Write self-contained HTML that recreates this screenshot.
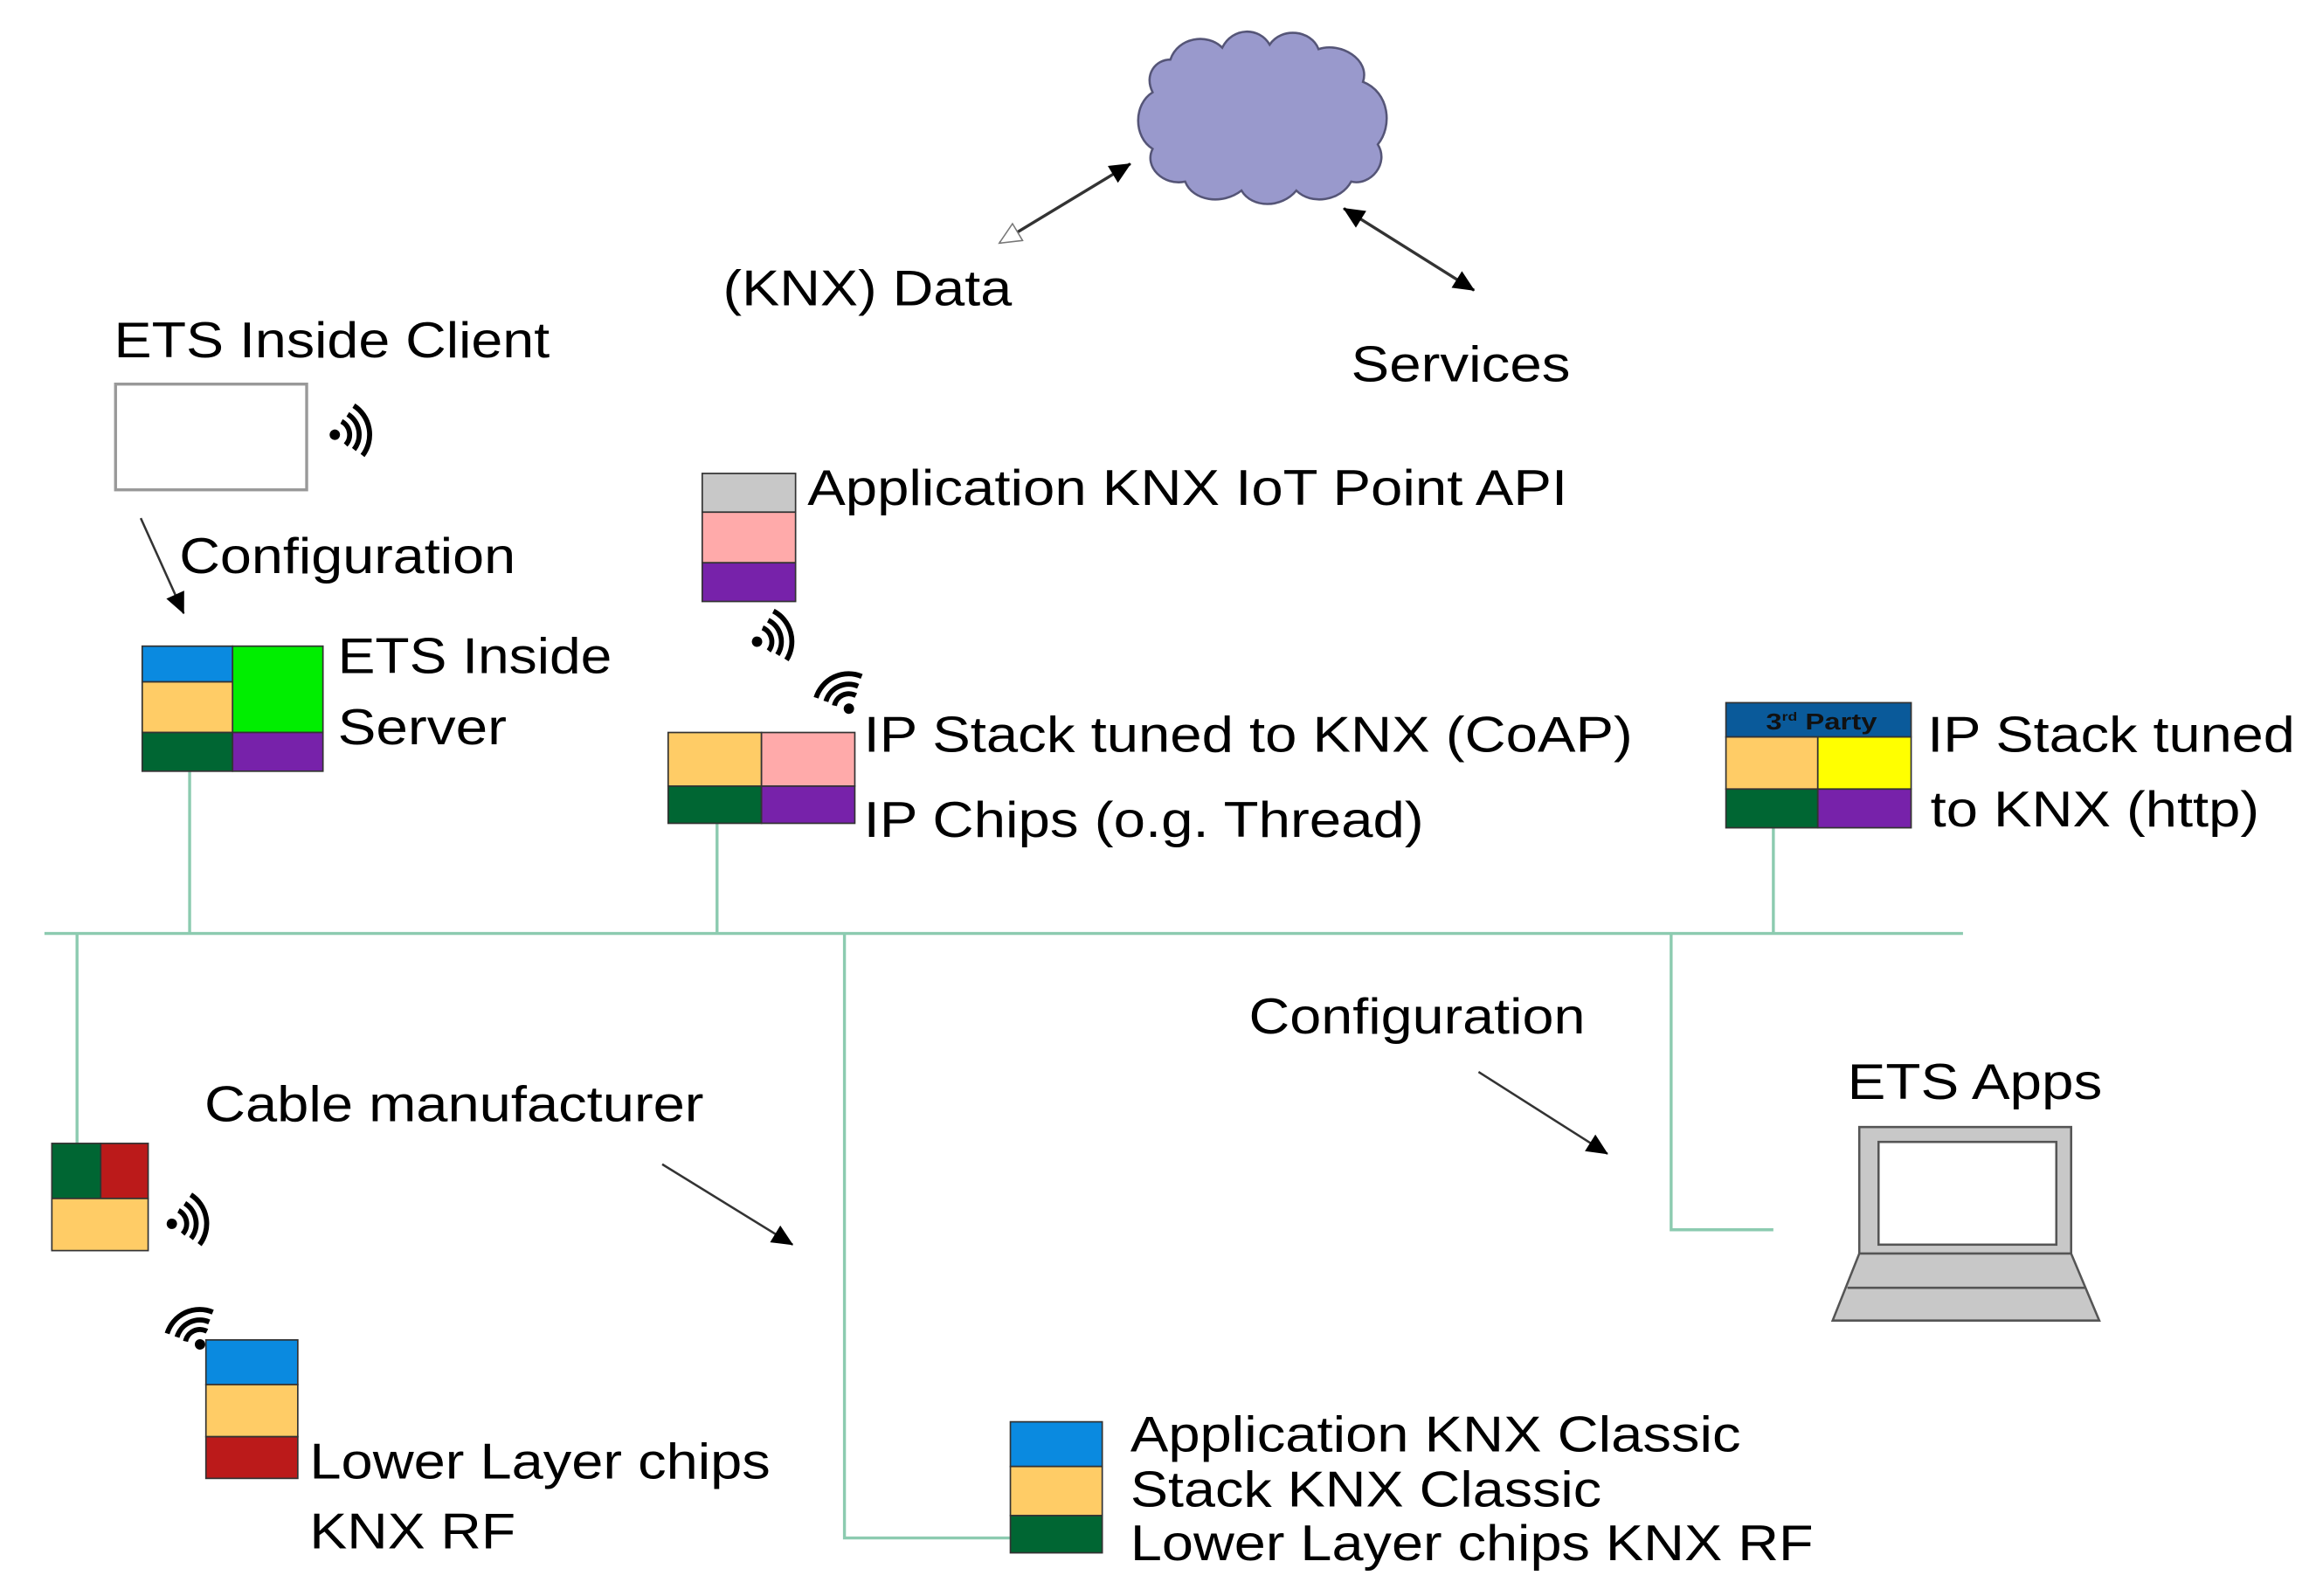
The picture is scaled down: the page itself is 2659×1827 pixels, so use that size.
<!DOCTYPE html>
<html><head><meta charset="utf-8"><style>html,body{margin:0;padding:0;background:#fff}svg{display:block}</style></head>
<body>
<svg width="2659" height="1827" viewBox="0 0 1568 1072" preserveAspectRatio="none" xmlns="http://www.w3.org/2000/svg" font-family="Liberation Sans, Arial, sans-serif" font-size="34" fill="#000">
<defs>
<marker id="af" viewBox="0 0 10 10" refX="9" refY="5" markerWidth="6" markerHeight="6" orient="auto-start-reverse" markerUnits="userSpaceOnUse" style="overflow:visible"><path d="M-14,-6 L10,5 L-14,16 Z" fill="#000"/></marker>
<marker id="ao" viewBox="0 0 10 10" refX="9" refY="5" markerWidth="6" markerHeight="6" orient="auto-start-reverse" markerUnits="userSpaceOnUse" style="overflow:visible"><path d="M-14,-6 L10,5 L-14,16 Z" fill="#fff" stroke="#777" stroke-width="1.5"/></marker>
<g id="wifi" fill="none" stroke="#000" stroke-width="3.4">
<circle cx="0" cy="0" r="3.5" fill="#000" stroke="none"/>
<path d="M6,-8 A10,10 0 0 1 6,8"/><path d="M11,-12 A16,16 0 0 1 11,12"/><path d="M16,-17 A23,23 0 0 1 16,17"/>
</g>
</defs>
<g stroke="#8ccbb0" stroke-width="2" fill="none">
<line x1="30" y1="627" x2="1325" y2="627"/>
<line x1="128" y1="518" x2="128" y2="627"/>
<line x1="484" y1="553" x2="484" y2="627"/>
<line x1="1197" y1="556" x2="1197" y2="627"/>
<line x1="52" y1="627" x2="52" y2="768"/>
<polyline points="570,627 570,1033 682,1033"/>
<polyline points="1128,627 1128,826 1197,826"/>
</g>
<path d="M790,40 C795,25 815,22 825,32 C832,18 850,18 857,30 C865,18 885,20 890,33 C905,28 925,40 920,55 C938,62 940,85 930,97 C938,110 925,125 912,122 C905,135 885,138 875,128 C865,140 845,140 838,128 C825,138 805,135 800,122 C785,125 772,112 778,100 C765,92 765,70 778,62 C772,50 780,40 790,40 Z" fill="#9999cc" stroke="#555577" stroke-width="1.5"/>
<line x1="675" y1="163" x2="763" y2="110" stroke="#333" stroke-width="2" marker-start="url(#ao)" marker-end="url(#af)"/>
<line x1="907" y1="140" x2="995" y2="195" stroke="#333" stroke-width="2" marker-start="url(#af)" marker-end="url(#af)"/>
<text x="488" y="205" textLength="195" lengthAdjust="spacingAndGlyphs">(KNX) Data</text>
<text x="912" y="256" textLength="148" lengthAdjust="spacingAndGlyphs">Services</text>
<text x="77" y="240" textLength="294" lengthAdjust="spacingAndGlyphs">ETS Inside Client</text>
<rect x="78" y="258" width="129" height="71" fill="#fff" stroke="#999" stroke-width="2"/>
<use href="#wifi" transform="translate(226,292) rotate(-10)"/>
<line x1="95" y1="348" x2="124" y2="412" stroke="#333" stroke-width="1.5" marker-end="url(#af)"/>
<text x="121" y="385" textLength="227" lengthAdjust="spacingAndGlyphs">Configuration</text>
<g stroke="#333" stroke-width="1">
<rect x="96" y="434" width="61" height="24" fill="#0a8ae0"/>
<rect x="96" y="458" width="61" height="34" fill="#ffcc66"/>
<rect x="96" y="492" width="61" height="26" fill="#006633"/>
<rect x="157" y="434" width="61" height="58" fill="#00ee00"/>
<rect x="157" y="492" width="61" height="26" fill="#7722aa"/>
</g>
<text x="228" y="452" textLength="185" lengthAdjust="spacingAndGlyphs">ETS Inside</text>
<text x="228" y="500" textLength="114" lengthAdjust="spacingAndGlyphs">Server</text>
<g stroke="#333" stroke-width="1">
<rect x="474" y="318" width="63" height="26" fill="#c8c8c8"/>
<rect x="474" y="344" width="63" height="34" fill="#ffaaaa"/>
<rect x="474" y="378" width="63" height="26" fill="#7722aa"/>
</g>
<text x="545" y="339" textLength="513" lengthAdjust="spacingAndGlyphs">Application KNX IoT Point API</text>
<use href="#wifi" transform="translate(511,431) rotate(-15)"/>
<use href="#wifi" transform="translate(573,476) rotate(-115)"/>
<g stroke="#333" stroke-width="1">
<rect x="451" y="492" width="63" height="36" fill="#ffcc66"/>
<rect x="514" y="492" width="63" height="36" fill="#ffaaaa"/>
<rect x="451" y="528" width="63" height="25" fill="#006633"/>
<rect x="514" y="528" width="63" height="25" fill="#7722aa"/>
</g>
<text x="583" y="505" textLength="519" lengthAdjust="spacingAndGlyphs">IP Stack tuned to KNX (CoAP)</text>
<text x="583" y="562" textLength="378" lengthAdjust="spacingAndGlyphs">IP Chips (o.g. Thread)</text>
<g stroke="#333" stroke-width="1">
<rect x="1165" y="472" width="125" height="23" fill="#0a5a9a"/>
<rect x="1165" y="495" width="62" height="35" fill="#ffcc66"/>
<rect x="1227" y="495" width="63" height="35" fill="#ffff00"/>
<rect x="1165" y="530" width="62" height="26" fill="#006633"/>
<rect x="1227" y="530" width="63" height="26" fill="#7722aa"/>
</g>
<text x="1192" y="490" font-size="15" font-weight="bold" fill="#111" textLength="75" lengthAdjust="spacingAndGlyphs">3<tspan font-size="8" dy="-6">rd</tspan><tspan dy="6"> Party</tspan></text>
<text x="1301" y="505" textLength="248" lengthAdjust="spacingAndGlyphs">IP Stack tuned</text>
<text x="1303" y="555" textLength="222" lengthAdjust="spacingAndGlyphs">to KNX (http)</text>
<text x="843" y="694" textLength="227" lengthAdjust="spacingAndGlyphs">Configuration</text>
<line x1="998" y1="720" x2="1085" y2="775" stroke="#333" stroke-width="1.5" marker-end="url(#af)"/>
<text x="138" y="753" textLength="337" lengthAdjust="spacingAndGlyphs">Cable manufacturer</text>
<line x1="447" y1="782" x2="535" y2="836" stroke="#333" stroke-width="1.5" marker-end="url(#af)"/>
<text x="1247" y="738" textLength="172" lengthAdjust="spacingAndGlyphs">ETS Apps</text>
<g stroke="#555" stroke-width="1.5" fill="#c8c8c8">
<rect x="1255" y="757" width="143" height="85"/>
<rect x="1268" y="767" width="120" height="69" fill="#fff"/>
<path d="M1255,842 L1398,842 L1417,887 L1237,887 Z"/>
<line x1="1247" y1="865" x2="1408" y2="865"/>
</g>
<g stroke="#333" stroke-width="1">
<rect x="35" y="768" width="33" height="37" fill="#006633"/>
<rect x="68" y="768" width="32" height="37" fill="#bb1a1a"/>
<rect x="35" y="805" width="65" height="35" fill="#ffcc66"/>
</g>
<use href="#wifi" transform="translate(116,822) rotate(-10)"/>
<use href="#wifi" transform="translate(135,903) rotate(-115)"/>
<g stroke="#333" stroke-width="1">
<rect x="139" y="900" width="62" height="30" fill="#0a8ae0"/>
<rect x="139" y="930" width="62" height="35" fill="#ffcc66"/>
<rect x="139" y="965" width="62" height="28" fill="#bb1a1a"/>
</g>
<text x="209" y="993" textLength="311" lengthAdjust="spacingAndGlyphs">Lower Layer chips</text>
<text x="209" y="1040" textLength="139" lengthAdjust="spacingAndGlyphs">KNX RF</text>
<g stroke="#333" stroke-width="1">
<rect x="682" y="955" width="62" height="30" fill="#0a8ae0"/>
<rect x="682" y="985" width="62" height="33" fill="#ffcc66"/>
<rect x="682" y="1018" width="62" height="25" fill="#006633"/>
</g>
<text x="763" y="975" textLength="412" lengthAdjust="spacingAndGlyphs">Application KNX Classic</text>
<text x="763" y="1012" textLength="318" lengthAdjust="spacingAndGlyphs">Stack KNX Classic</text>
<text x="763" y="1048" textLength="461" lengthAdjust="spacingAndGlyphs">Lower Layer chips KNX RF</text>
</svg>
</body></html>
